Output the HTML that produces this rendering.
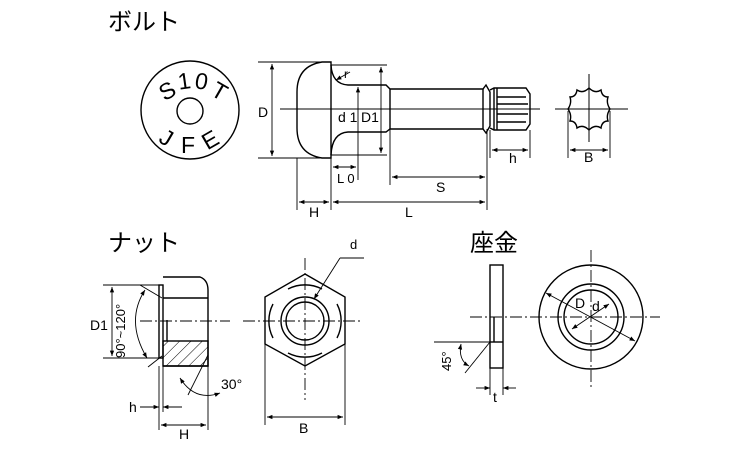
<!DOCTYPE html>
<html><head><meta charset="utf-8"><style>
html,body{margin:0;padding:0;background:#fff}
svg{display:block}
text{font-family:"Liberation Sans","Noto Sans CJK JP",sans-serif;fill:#000}
</style></head><body>
<svg width="750" height="450" viewBox="0 0 750 450" xmlns="http://www.w3.org/2000/svg">
<defs>
<marker id="a" viewBox="0 0 10 10" refX="10" refY="5" markerWidth="8" markerHeight="6" orient="auto-start-reverse"><path d="M0,1 L10,5 L0,9z" fill="#000"/></marker>
<pattern id="h" width="8" height="8" patternUnits="userSpaceOnUse" patternTransform="rotate(45)"><line x1="0" y1="0" x2="0" y2="8" stroke="#000" stroke-width="1"/></pattern>
</defs>
<text x="108" y="30" font-size="24">ボルト</text>
<text x="108" y="251" font-size="24">ナット</text>
<text x="470" y="251" font-size="24">座金</text>

<g fill="none" stroke="#000" stroke-width="1.4">
<!-- bolt top view -->
<circle cx="190" cy="110" r="49"/>
<circle cx="190" cy="111" r="13"/>
<!-- bolt side -->
<path d="M331,62 L322,62 Q297,66 297,92 L297,128 Q297,154 322,158 L331,158 Z"/>
<path d="M331,65 Q332,84 348,85 L386,85 L390,89 L483,89 L486,85 L490,92 L490,126 L486,133 L483,129 L390,129 L386,132 L348,132 Q332,133 331,155"/>
<line x1="390" y1="89" x2="390" y2="129"/>
<line x1="483" y1="89" x2="483" y2="129"/>
<path d="M490,90 L494,88 L526,88 L530,94 L530,124 L526,130 L494,130 L490,128"/>
<line x1="494" y1="88" x2="494" y2="130"/>
<line x1="497" y1="88" x2="497" y2="130"/>
<line x1="497" y1="97" x2="526" y2="97"/>
<line x1="497" y1="104" x2="528" y2="104"/>
<line x1="497" y1="114" x2="528" y2="114"/>
<line x1="497" y1="122" x2="526" y2="122"/>
<line x1="280" y1="109" x2="540" y2="109" stroke-width="1"/>
<g stroke-width="0.9">
<line x1="258" y1="62" x2="331" y2="62"/><line x1="258" y1="158" x2="331" y2="158"/>
<line x1="272" y1="64" x2="272" y2="156" marker-start="url(#a)" marker-end="url(#a)"/>
<line x1="331" y1="65" x2="387" y2="65"/><line x1="331" y1="155" x2="387" y2="155"/>
<line x1="381" y1="67" x2="381" y2="153" marker-start="url(#a)" marker-end="url(#a)"/>
<line x1="358" y1="87" x2="358" y2="180" marker-start="url(#a)"/>
<line x1="297" y1="158" x2="297" y2="210"/><line x1="331" y1="158" x2="331" y2="210"/>
<line x1="390" y1="129" x2="390" y2="185"/><line x1="487" y1="129" x2="487" y2="210"/>
<line x1="530" y1="130" x2="530" y2="158"/><line x1="490" y1="130" x2="490" y2="158"/>
<line x1="333" y1="167" x2="356" y2="167" marker-start="url(#a)" marker-end="url(#a)"/>
<line x1="392" y1="177" x2="485" y2="177" marker-start="url(#a)" marker-end="url(#a)"/>
<line x1="299" y1="202" x2="329" y2="202" marker-start="url(#a)" marker-end="url(#a)"/>
<line x1="333" y1="202" x2="485" y2="202" marker-start="url(#a)" marker-end="url(#a)"/>
<line x1="492" y1="150" x2="528" y2="150" marker-start="url(#a)" marker-end="url(#a)"/>
<line x1="350" y1="72" x2="336" y2="80" marker-end="url(#a)"/>
</g>
<path d="M589,88 Q595,94 601,90 Q602,97 608,97 Q606,103 610,109 Q606,115 608,121 Q602,121 601,128 Q595,124 589,130 Q583,124 577,128 Q576,121 570,121 Q572,115 568,109 Q572,103 570,97 Q576,97 577,90 Q583,94 589,88Z"/>
<line x1="589" y1="74" x2="589" y2="142" stroke-width="1"/>
<line x1="555" y1="109" x2="628" y2="109" stroke-width="1"/>
<g stroke-width="0.9">
<line x1="568" y1="111" x2="568" y2="158"/><line x1="610" y1="111" x2="610" y2="158"/>
<line x1="570" y1="150" x2="608" y2="150" marker-start="url(#a)" marker-end="url(#a)"/>
</g>

<!-- nut side -->
<rect x="159" y="285" width="4" height="73"/>
<path d="M163,277 L200,277 Q208,280 208,290 L208,366 L163,366"/>
<line x1="163" y1="298" x2="208" y2="298"/>
<rect x="163" y="341" width="45" height="25" fill="url(#h)"/>
<line x1="167" y1="320" x2="167" y2="341"/>
<line x1="140" y1="321" x2="230" y2="321" stroke-dasharray="12,3,2,3" stroke-width="0.9"/>
<g stroke-width="0.9">
<line x1="103" y1="285" x2="160" y2="285"/><line x1="103" y1="358" x2="160" y2="358"/>
<line x1="112" y1="287" x2="112" y2="356" marker-start="url(#a)" marker-end="url(#a)"/>
<line x1="140" y1="285" x2="162" y2="298"/><line x1="148" y1="367" x2="162" y2="356"/>
<path d="M145,290 Q125,321 147,358" marker-start="url(#a)" marker-end="url(#a)"/>
<line x1="208" y1="355" x2="188" y2="395"/>
<path d="M180,378 Q195,402 220,393" marker-start="url(#a)" marker-end="url(#a)"/>
<line x1="159" y1="366" x2="159" y2="430"/><line x1="163" y1="366" x2="163" y2="412"/>
<line x1="208" y1="366" x2="208" y2="430"/>
<line x1="140" y1="407" x2="159" y2="407" marker-end="url(#a)"/>
<line x1="182" y1="407" x2="163" y2="407" marker-end="url(#a)"/>
<line x1="161" y1="425" x2="206" y2="425" marker-start="url(#a)" marker-end="url(#a)"/>
</g>
<!-- nut front -->
<path d="M305,274 L345,297 L345,344 L305,366 L265,344 L265,297Z"/>
<path d="M288,289 A37,37 0 0 1 322,289"/>
<path d="M337,304 A37,37 0 0 1 337,338"/>
<path d="M322,353 A37,37 0 0 1 288,353"/>
<path d="M273,338 A37,37 0 0 1 273,304"/>
<circle cx="305" cy="321" r="24"/>
<circle cx="305" cy="321" r="19"/>
<line x1="243" y1="321" x2="360" y2="321" stroke-dasharray="12,3,2,3" stroke-width="0.9"/>
<line x1="305" y1="258" x2="305" y2="400" stroke-dasharray="12,3,2,3" stroke-width="0.9"/>
<g stroke-width="0.9">
<line x1="364" y1="258" x2="340" y2="258"/>
<line x1="340" y1="258" x2="314" y2="299" marker-end="url(#a)"/>
<line x1="265" y1="344" x2="265" y2="425"/><line x1="345" y1="344" x2="345" y2="425"/>
<line x1="267" y1="417" x2="343" y2="417" marker-start="url(#a)" marker-end="url(#a)"/>
</g>

<!-- washer side -->
<rect x="490" y="265" width="13" height="103"/>
<line x1="490" y1="342" x2="503" y2="342"/>
<line x1="494" y1="317" x2="494" y2="342"/>
<line x1="470" y1="317" x2="660" y2="317" stroke-dasharray="12,3,2,3" stroke-width="0.9"/>
<g stroke-width="0.9">
<line x1="434" y1="342" x2="490" y2="342"/>
<line x1="490" y1="342" x2="465" y2="373"/>
<path d="M461,344 Q458,360 469,366" marker-start="url(#a)" marker-end="url(#a)"/>
<line x1="490" y1="368" x2="490" y2="395"/><line x1="503" y1="368" x2="503" y2="395"/>
<line x1="476" y1="388" x2="490" y2="388" marker-end="url(#a)"/>
<line x1="516" y1="388" x2="503" y2="388" marker-end="url(#a)"/>
</g>
<circle cx="591" cy="317" r="52"/>
<circle cx="591" cy="317" r="33"/>
<circle cx="591" cy="317" r="27"/>
<line x1="591" y1="250" x2="591" y2="388" stroke-dasharray="12,3,2,3" stroke-width="0.9"/>
<g stroke-width="0.9">
<line x1="546" y1="293" x2="635" y2="341" marker-start="url(#a)" marker-end="url(#a)"/>
<line x1="572" y1="329" x2="609" y2="304" marker-start="url(#a)" marker-end="url(#a)"/>
</g>
</g>

<g font-size="14">
<text x="258" y="117">D</text>
<text x="338" y="122">d 1</text>
<text x="361" y="122">D1</text>
<text x="344" y="78" font-size="12">r</text>
<text x="337" y="183" font-size="13">L 0</text>
<text x="436" y="192">S</text>
<text x="405" y="217">L</text>
<text x="309" y="217">H</text>
<text x="509" y="163">h</text>
<text x="584" y="162">B</text>
<text x="90" y="330">D1</text>
<text x="125" y="358" transform="rotate(-90 125 358)" font-size="13">90°~120°</text>
<text x="221" y="389">30°</text>
<text x="129" y="412">h</text>
<text x="179" y="439">H</text>
<text x="350" y="249" font-size="13">d</text>
<text x="299" y="433">B</text>
<text x="575" y="308">D</text>
<text x="592" y="311">d</text>
<text x="493" y="402">t</text>
<text x="451" y="371" transform="rotate(-90 451 371)" font-size="13">45°</text>
</g>
<g font-size="23">
<text x="160" y="99" transform="rotate(-30 167 92)">S</text>
<text x="178" y="89" transform="rotate(-8 184 82)">1</text>
<text x="195" y="89" transform="rotate(10 201 82)">0</text>
<text x="212" y="99" transform="rotate(30 219 92)">T</text>
<text x="160" y="146" transform="rotate(30 167 139)">J</text>
<text x="181" y="153">F</text>
<text x="203" y="148" transform="rotate(-30 210 141)">E</text>
</g>
</svg>
</body></html>
